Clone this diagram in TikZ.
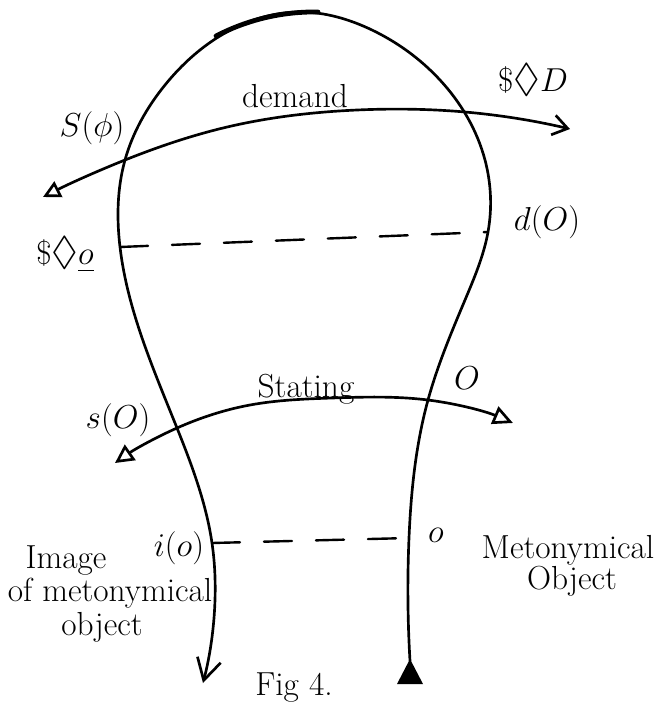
\documentclass[tikz,border=0pt]{standalone}
\usepackage{amsmath}
\usepackage{amssymb}
\usetikzlibrary{arrows.meta, hobby}

\begin{document}
\begin{tikzpicture}[x=0.75pt, y=-0.75pt, line cap=round, line join=round,
    loopline/.style={line width=2pt, use Hobby shortcut},
    dashline/.style={line width=1.8pt, dash pattern=on 21pt off 18pt},
    txt/.style={font=\fontsize{25}{28}\selectfont, inner sep=0pt},
    sym/.style={font=\fontsize{30}{34}\selectfont, inner sep=0pt}]
    \useasboundingbox (0,0) rectangle (668,708);

    % Main loop - from the base triangle, up the right side, over the top, down the left
    \coordinate (base) at (410,661);
    \coordinate (dright) at (488,232);
    \coordinate (dleft) at (120,247);
    \coordinate (iright) at (409,538);
    \coordinate (ileft) at (212,543);
    \coordinate (tipL) at (203,683);
    \draw[loopline, -{Straight Barb[length=16pt, width=18pt]}]
        (base) .. (iright) .. (428,400) .. (465,300) .. (dright) .. (485,160)
        .. (440,80) .. (372,30) .. (300,12) .. (225,33) .. (165,85)
        .. (125,160) .. (dleft) .. (177,428) .. (ileft) .. (215,600) .. (tipL);
    \fill (397,684) -- (423,684) -- (410,659) -- cycle;
    % thick stroke over the top
    \draw[line width=3.6pt, use Hobby shortcut] (216,36) .. (260,19) .. (318,12);

    % Demand vector
    \draw[loopline, {Triangle[open, length=13pt, width=13pt]}-{Straight Barb[length=11pt, width=15pt]}]
        (43,197) .. (125,160) .. (223,128) .. (357,110) .. (465,112) .. (570,129);
    \node[txt] (demand) at (295,96) {demand};
    \node[sym] (sD) at (533,80) {$\$\lozenge D$};
    \node[sym] (Sphi) at (92,128) {$S(\phi)$};

    % Dashed line d(O)
    \draw[dashline] (dleft) -- (dright);
    \node[sym] (dO) at (547,222) {$d(O)$};
    \node[sym] (sOo) at (65,255) {$\$\lozenge\underline{o}$};

    % Stating vector
    \draw[loopline, {Triangle[open, length=14pt, width=14pt]}-{Triangle[open, length=15pt, width=14pt]}]
        (115,463) .. (177,428) .. (250,405) .. (332,398) .. (428,400) .. (513,423);
    \node[txt] (stating) at (306,389) {Stating};
    \node[font=\fontsize{34}{38}\selectfont, inner sep=0pt] (O) at (467,378) {$O$};
    \node[font=\fontsize{26}{30}\selectfont, inner sep=0pt] (sO) at (118,420) {$s(O)$};

    % Dashed line i(o)
    \draw[dashline] (ileft) -- (iright);
    \node[font=\fontsize{24}{28}\selectfont, inner sep=0pt] (io) at (179,548) {$i(o)$};
    \node[font=\fontsize{26}{30}\selectfont, inner sep=0pt] (o) at (436,535) {$o$};

    % Side texts
    \node[txt] (image) at (66,561) {Image};
    \node[txt] (ofmeto) at (110,593) {of metonymical};
    \node[txt] (object) at (102,627) {object};
    \node[txt] (meto) at (568,550) {Metonymical};
    \node[txt] (Object) at (572,581) {Object};
    \node[txt] (fig) at (294,688) {Fig 4.};
\end{tikzpicture}
\end{document}
